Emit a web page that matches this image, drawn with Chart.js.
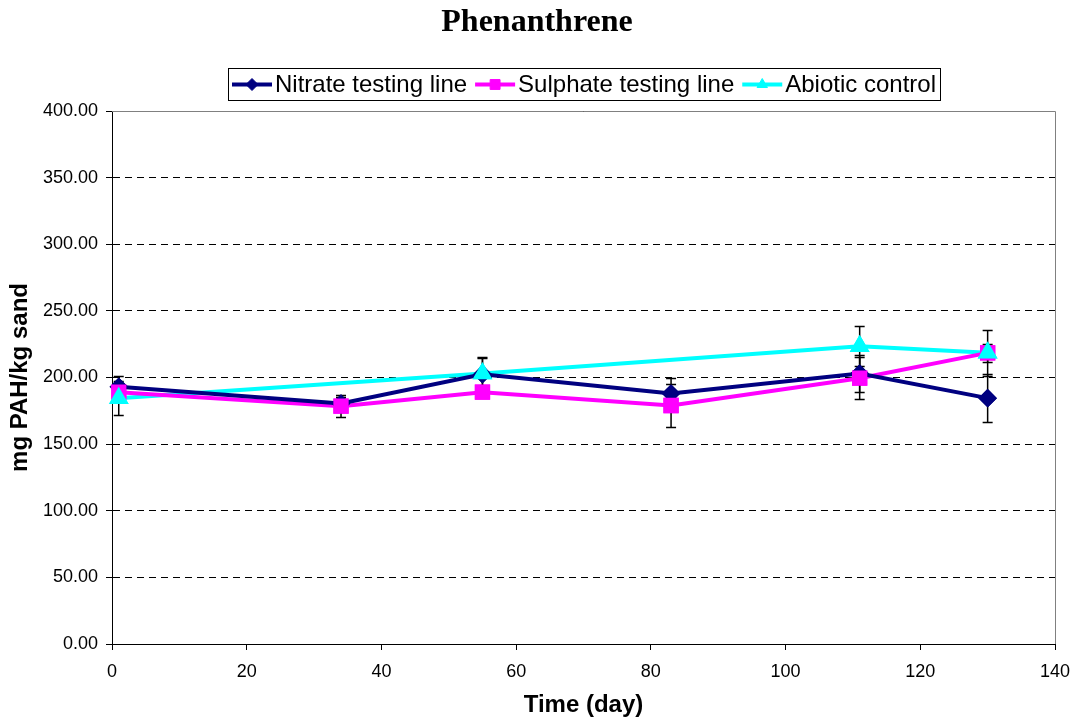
<!DOCTYPE html>
<html>
<head>
<meta charset="utf-8">
<title>Phenanthrene</title>
<script src="https://cdn.jsdelivr.net/npm/chart.js@4/dist/chart.umd.min.js"></script>
<style>
  html, body { margin: 0; padding: 0; background: #fff; }
  canvas { display: block; }
</style>
</head>
<body>
<canvas id="PhenChart" width="1078" height="722"></canvas>
<script>
const test_days = [1, 34, 55, 83, 111, 130];
const control_days = [1, 55, 111, 130];

const nitrate_values = [193, 180.5, 202.5, 188, 203, 184.5];
const nitrate_errors = [8, 5, 12, 12, 14, 18];

const sulphate_values = [189, 178.5, 189, 179, 199.5, 218.5];
const sulphate_errors = [4, 8, 3, 16, 16, 7];

const control_values = [184.5, 203, 223.5, 218.5];
const control_errors = [12.5, 12.5, 15, 17];

const x_ticks = [0, 20, 40, 60, 80, 100, 120, 140];
const y_ticks = [0, 50, 100, 150, 200, 250, 300, 350, 400];

Chart.defaults.font.family = '"Liberation Sans", Arial, sans-serif';
Chart.defaults.color = '#000';

const toPoints = (days, values) => days.map((d, i) => ({ x: d, y: values[i] }));

// vertical error bars, then the markers again so they sit on top
const errorBars = {
    id: 'errorBars',
    afterDatasetsDraw(chart) {
        const ctx = chart.ctx;
        const y = chart.scales.y;
        ctx.save();
        ctx.strokeStyle = '#000';
        ctx.lineWidth = 1.5;
        chart.data.datasets.forEach((ds, i) => {
            const meta = chart.getDatasetMeta(i);
            meta.data.forEach((pt, j) => {
                const v = ds.data[j].y;
                const e = ds.errors[j];
                const top = Math.round(y.getPixelForValue(v + e)) + 0.5;
                const bot = Math.round(y.getPixelForValue(v - e)) + 0.5;
                ctx.beginPath();
                ctx.moveTo(pt.x, top);
                ctx.lineTo(pt.x, bot);
                ctx.moveTo(pt.x - 5, top);
                ctx.lineTo(pt.x + 5, top);
                ctx.moveTo(pt.x - 5, bot);
                ctx.lineTo(pt.x + 5, bot);
                ctx.stroke();
            });
        });
        ctx.restore();
        chart.data.datasets.forEach((ds, i) => {
            chart.getDatasetMeta(i).data.forEach(pt => pt.draw(ctx, chart.chartArea));
        });
    }
};

// title, boxed legend and the grey frame of the plot area
const decor = {
    id: 'decor',
    afterDraw(chart) {
        const ctx = chart.ctx;
        const area = chart.chartArea;
        ctx.save();

        ctx.strokeStyle = '#808080';
        ctx.lineWidth = 1;
        ctx.beginPath();
        ctx.moveTo(area.left, area.top + 0.5);
        ctx.lineTo(area.right + 0.5, area.top + 0.5);
        ctx.lineTo(area.right + 0.5, area.bottom);
        ctx.stroke();

        ctx.fillStyle = '#000';
        ctx.font = 'bold 32px "Liberation Serif", "Times New Roman", serif';
        ctx.textAlign = 'center';
        ctx.textBaseline = 'middle';
        ctx.fillText('Phenanthrene', 537, 23);

        ctx.font = '24px "Liberation Sans", Arial, sans-serif';
        ctx.textAlign = 'left';
        const sample = 40, gap = 3, spacing = 8, pad = 4;
        const widths = chart.data.datasets.map(ds => ctx.measureText(ds.label).width);
        let total = pad * 2 + spacing * (widths.length - 1);
        widths.forEach(w => { total += sample + gap + w; });
        const boxTop = 68, boxH = 32;
        let x = Math.round((area.left + area.right) / 2 - total / 2);
        ctx.strokeStyle = '#000';
        ctx.lineWidth = 1;
        ctx.strokeRect(x + 0.5, boxTop + 0.5, Math.round(total), boxH);
        const cy = boxTop + boxH / 2 + 0.5;
        x += pad;
        chart.data.datasets.forEach((ds, i) => {
            ctx.strokeStyle = ds.borderColor;
            ctx.lineWidth = 4;
            ctx.beginPath();
            ctx.moveTo(x, cy);
            ctx.lineTo(x + sample, cy);
            ctx.stroke();
            ctx.fillStyle = ds.pointBackgroundColor;
            ctx.strokeStyle = ds.borderColor;
            ctx.lineWidth = 1;
            Chart.helpers.drawPoint(ctx, {
                pointStyle: ds.pointStyle,
                radius: ds.pointStyle === 'rect' ? 7 : 6,
                rotation: 0,
                borderWidth: 1
            }, x + sample / 2, cy);
            ctx.fillStyle = '#000';
            ctx.fillText(ds.label, x + sample + gap, cy + 1);
            x += sample + gap + widths[i] + spacing;
        });
        ctx.restore();
    }
};

const phen_data = {
    datasets: [{
        label: 'Nitrate testing line',
        data: toPoints(test_days, nitrate_values),
        errors: nitrate_errors,
        borderColor: '#000080',
        backgroundColor: '#000080',
        pointBackgroundColor: '#000080',
        pointStyle: 'rectRot',
        pointRadius: 6.5,
        borderWidth: 4
    }, {
        label: 'Sulphate testing line',
        data: toPoints(test_days, sulphate_values),
        errors: sulphate_errors,
        borderColor: '#FF00FF',
        backgroundColor: '#FF00FF',
        pointBackgroundColor: '#FF00FF',
        pointStyle: 'rect',
        pointRadius: 8,
        borderWidth: 4
    }, {
        label: 'Abiotic control',
        data: toPoints(control_days, control_values),
        errors: control_errors,
        borderColor: '#00FFFF',
        backgroundColor: '#00FFFF',
        pointBackgroundColor: '#00FFFF',
        pointStyle: 'triangle',
        pointRadius: 7.5,
        borderWidth: 4
    }]
};

const configPhen = {
    type: 'line',
    data: phen_data,
    options: {
        responsive: false,
        animation: false,
        events: [],
        layout: {
            padding: { top: 111, right: 0, bottom: 0, left: 0 }
        },
        elements: {
            line: { tension: 0 },
            point: { borderWidth: 1 }
        },
        plugins: {
            legend: { display: false },
            title: { display: false },
            tooltip: { enabled: false }
        },
        scales: {
            x: {
                type: 'linear',
                min: 0,
                max: 140,
                afterBuildTicks: s => { s.ticks = x_ticks.map(v => ({ value: v })); },
                afterFit: s => { s.height = 78; s.paddingRight = 23; },
                ticks: { font: { size: 18 }, padding: 11, maxRotation: 0 },
                grid: { drawOnChartArea: false, tickLength: 6, color: '#000' },
                border: { color: '#000', width: 1 },
                title: {
                    display: true,
                    text: 'Time (day)',
                    font: { size: 24, weight: 'bold' },
                    padding: { top: 0, bottom: 2 }
                }
            },
            y: {
                type: 'linear',
                min: 0,
                max: 400,
                afterBuildTicks: s => { s.ticks = y_ticks.map(v => ({ value: v })); },
                afterFit: s => { s.width = 112; },
                ticks: { font: { size: 18 }, padding: 8, callback: v => v.toFixed(2) },
                grid: { color: '#000', tickLength: 6, lineWidth: 1 },
                border: { color: '#000', width: 1, dash: [7, 5] },
                title: {
                    display: true,
                    text: 'mg PAH/kg sand',
                    font: { size: 24, weight: 'bold' },
                    padding: { top: 6, bottom: 0 }
                }
            }
        }
    },
    plugins: [errorBars, decor]
};

const PhenChart = new Chart(
    document.getElementById('PhenChart'),
    configPhen
);
</script>
</body>
</html>
